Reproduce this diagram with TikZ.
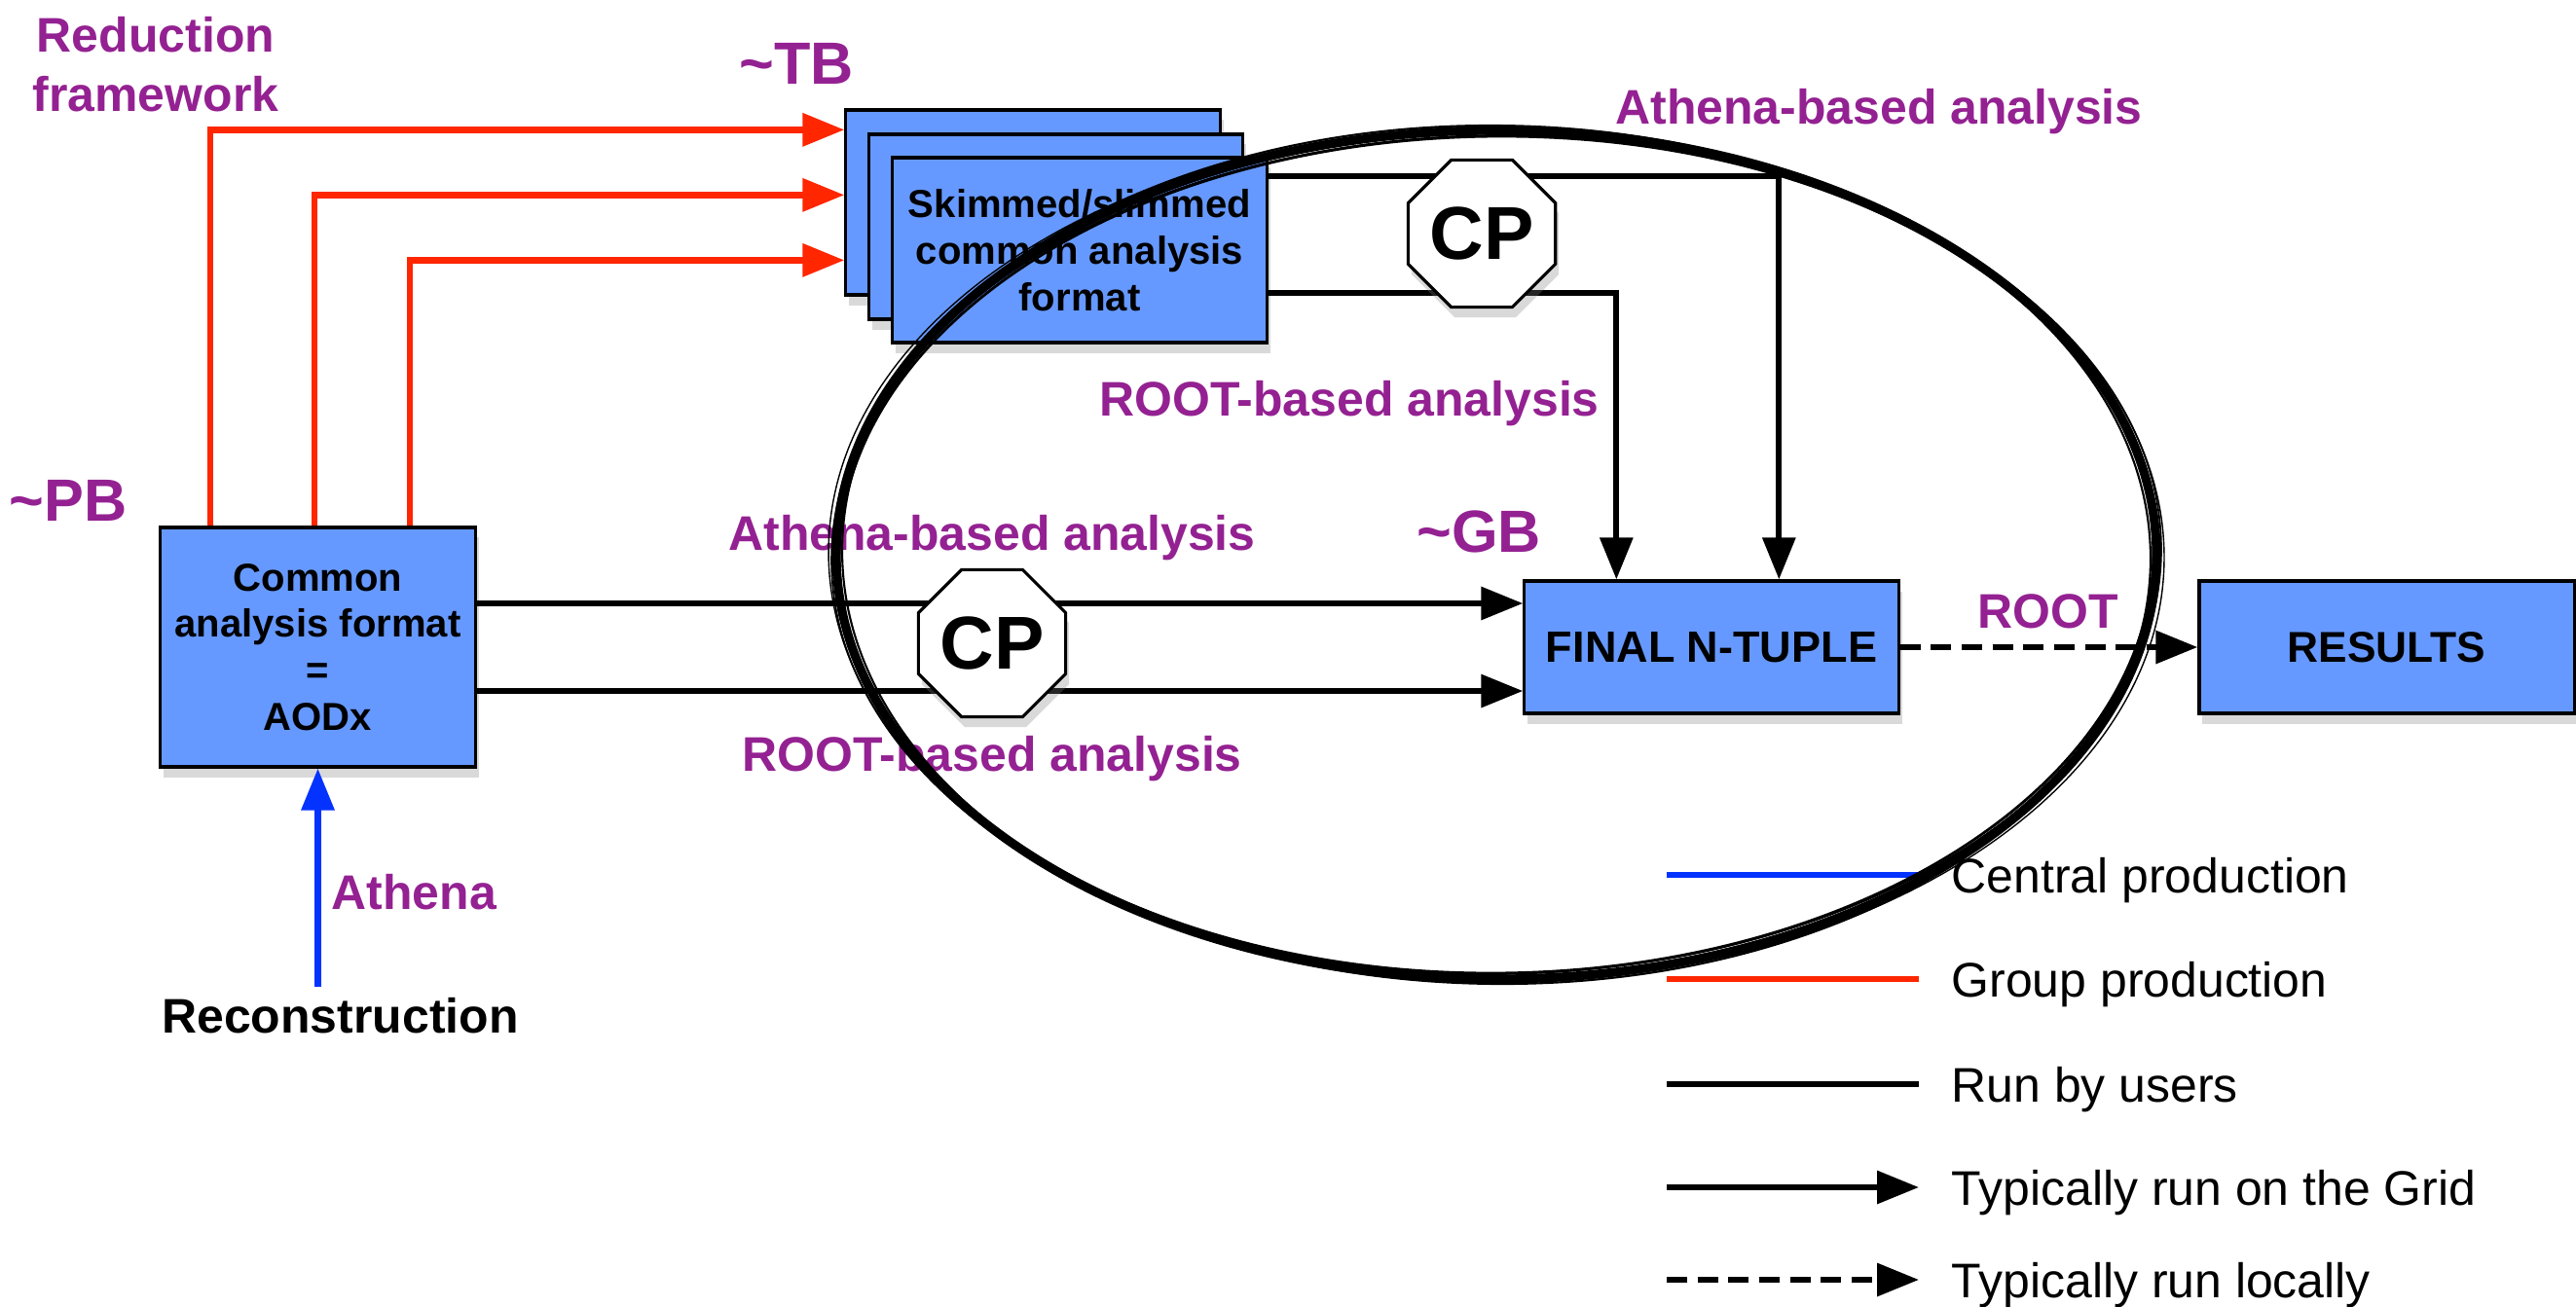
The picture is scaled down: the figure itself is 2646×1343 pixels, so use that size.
\documentclass[tikz,border=0pt]{standalone}
\usepackage{fontspec}
\setmainfont{Liberation Sans}
\usetikzlibrary{arrows.meta,shapes.geometric,shadows}
\definecolor{boxblue}{RGB}{102,153,255}
\definecolor{lblpurple}{RGB}{148,33,146}
\definecolor{grpred}{RGB}{255,38,0}
\definecolor{cenblue}{RGB}{4,51,255}
\tikzset{
  tip/.style={-{Triangle[length=12.2pt,width=9.4pt]}},
  cen/.style={cenblue,line width=1.8pt},
  grp/.style={grpred,line width=1.8pt},
  usr/.style={black,line width=1.7pt},
  loc/.style={usr,dash pattern=on 6pt off 3pt},
  leggrid/.style={usr,tip},
  legloc/.style={loc,tip},
}
\begin{document}
\begin{tikzpicture}[x=0.01cm,y=-0.01cm,
    box/.style={draw,line width=0.9pt,fill=boxblue,inner sep=0pt,align=center,
      font=\fontsize{11.4}{13.6}\selectfont\bfseries,
      drop shadow={shadow xshift=1pt,shadow yshift=-3pt,opacity=0.3}},
    lbl/.style={text=lblpurple,inner sep=0pt,font=\fontsize{14.2}{17.2}\selectfont\bfseries},
    vol/.style={lbl,font=\fontsize{17.4}{20}\selectfont\bfseries},
    cp/.style={regular polygon,regular polygon sides=8,draw,line width=0.9pt,fill=white,
      minimum size=1.56cm,inner sep=0pt,font=\fontsize{21.9}{24}\selectfont\bfseries,
      drop shadow={shadow xshift=1pt,shadow yshift=-3pt,opacity=0.3}},
    legtxt/.style={anchor=base west,inner sep=0pt,font=\fontsize{14.2}{17}\selectfont}]
  \useasboundingbox (0,0) rectangle (2646,1343);

  % boxes
  \node[box,minimum width=3.84cm,minimum height=1.90cm] (back) at (1061,208) {};
  \node[box,minimum width=3.84cm,minimum height=1.90cm] (middle) at (1084.5,233) {};
  \node[box,minimum width=3.84cm,minimum height=1.90cm] (front) at (1109,257)
    {Skimmed/slimmed\\common analysis\\format};
  \node[box,minimum width=3.23cm,minimum height=2.46cm] (common) at (326.5,665)
    {Common\\analysis format\\=\\AODx};
  \node[box,minimum width=3.84cm,minimum height=1.36cm,
    font=\fontsize{12.8}{15}\selectfont\bfseries] (final) at (1758,665) {FINAL N-TUPLE};
  \node[box,minimum width=3.85cm,minimum height=1.36cm,
    font=\fontsize{12.6}{15}\selectfont\bfseries] (results) at (2451.5,665) {RESULTS};

  % labels
  \node[lbl,align=center] (reduction) at (160,66) {Reduction\\framework};
  \node[vol,anchor=base] (tb) at (818,87) {\textasciitilde TB};
  \node[vol,anchor=base] (pb) at (70,535) {\textasciitilde PB};
  \node[vol,anchor=base] (gb) at (1519,567) {\textasciitilde GB};
  \node[lbl,anchor=base] (athtop) at (1930,128) {Athena-based analysis};
  \node[lbl,anchor=base] (rootup) at (1386,428) {ROOT-based analysis};
  \node[lbl,anchor=base] (athmid) at (1019,565) {Athena-based analysis};
  \node[lbl,anchor=base] (rootlow) at (1019,792) {ROOT-based analysis};
  \node[lbl,anchor=base] (rootres) at (2104,645) {ROOT};
  \node[lbl,anchor=base west] (athena) at (340,934) {Athena};
  \node[anchor=base,inner sep=0pt,font=\fontsize{14.2}{17}\selectfont\bfseries]
    (recon) at (349.5,1061) {Reconstruction};

  % connectors
  \foreach \dx/\dy in {53/22,160/89,258/156}
    \draw[grp,tip] ([shift={(\dx,0)}]common.north west) |- ([shift={(0,\dy)}]back.north west);
  \draw[cen,tip] ([yshift=3pt]recon.north -| common.south) -- (common.south);
  \draw[usr,tip] ([shift={(0,21)}]front.north east) -| ([shift={(263,0)}]final.north west);
  \draw[usr,tip] ([shift={(0,141)}]front.north east) -| ([shift={(96,0)}]final.north west);
  \draw[usr,tip] ([yshift=12.8pt]common.east) -- ([yshift=12.8pt]final.west);
  \draw[usr,tip] ([yshift=-12.8pt]common.east) -- ([yshift=-12.8pt]final.west);
  \draw[loc,tip] (final.east) -- (results.west);

  \node[cp] (cpup) at (1522,240) {CP};
  \node[cp] (cplow) at (1019,661) {CP};

  % legend
  \foreach \y/\sty/\txt [count=\i] in {917/cen/Central production,1024/grp/Group production,
      1132/usr/Run by users,1238/leggrid/Typically run on the Grid,1333/legloc/Typically run locally}{
    \node[legtxt] (leg\i) at (2004,\y) {\txt};
    \draw[\sty] ([shift={(-292,-18)}]leg\i.base west) -- ++(259,0);
  }

  % hand-drawn ring
  \foreach \rx/\ry/\rot/\lw in {678/436/0/2.6pt,683/431/0.8/0.5pt,672/441/-0.6/0.6pt,
      686/438/-0.4/0.4pt,675/430/0.5/0.8pt,681/434/-0.2/0.5pt}
    \draw[line width=\lw,rotate around={\rot:(1537,570)}] (1537,570) ellipse [x radius=\rx,y radius=\ry];
\end{tikzpicture}
\end{document}
